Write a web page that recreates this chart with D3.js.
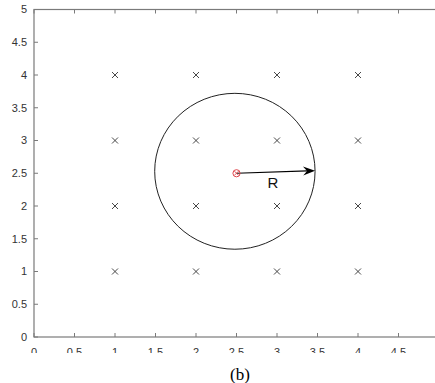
<!DOCTYPE html>
<html>
<head>
<meta charset="utf-8">
<script src="https://cdn.jsdelivr.net/npm/d3@7"></script>
<style>
  body { margin: 0; background: #fff; }
  svg { display: block; }
</style>
</head>
<body>
<svg id="chart" width="435" height="383"></svg>
<script>
// data
const xTicks = [0, 0.5, 1, 1.5, 2, 2.5, 3, 3.5, 4, 4.5, 5];
const xTickLabels = [0, 0.5, 1, 1.5, 2, 2.5, 3, 3.5, 4, 4.5]; // 5 is off the picture
const yTicks = [0, 0.5, 1, 1.5, 2, 2.5, 3, 3.5, 4, 4.5, 5];
const gridX = [1, 2, 3, 4];
const gridY = [1, 2, 3, 4];
const centerPt = [2.5, 2.5];
const circleCenter = [2.48, 2.53];
const circleRadius = [0.99, 1.19]; // x, y in data units
const arrowTip = [3.47, 2.54];
const rLabel = [2.95, 2.35];

const svg = d3.select('#chart');
const x = d3.scaleLinear().domain([0, 5]).range([34, 439]);
const y = d3.scaleLinear().domain([0, 5]).range([337, 9.5]);
const axisColor = '#7a7a7a';
const tickLen = 4;

// clip for x tick labels (cut off in the original)
svg.append('defs').append('clipPath').attr('id', 'lblclip')
  .append('rect').attr('x', 0).attr('y', 0).attr('width', 435).attr('height', 353);

const g = svg.append('g');

// box
g.append('rect')
  .attr('x', x(0)).attr('y', y(5))
  .attr('width', x(5) - x(0)).attr('height', y(0) - y(5))
  .attr('fill', 'none').attr('stroke', axisColor).attr('stroke-width', 1.2);

// ticks (inward on all sides)
xTicks.forEach(function(t) {
  g.append('line').attr('x1', x(t)).attr('x2', x(t)).attr('y1', y(0)).attr('y2', y(0) - tickLen)
    .attr('stroke', axisColor);
  g.append('line').attr('x1', x(t)).attr('x2', x(t)).attr('y1', y(5)).attr('y2', y(5) + tickLen)
    .attr('stroke', axisColor);
});
yTicks.forEach(function(t) {
  g.append('line').attr('x1', x(0)).attr('x2', x(0) + tickLen).attr('y1', y(t)).attr('y2', y(t))
    .attr('stroke', axisColor);
  g.append('line').attr('x1', x(5)).attr('x2', x(5) - tickLen).attr('y1', y(t)).attr('y2', y(t))
    .attr('stroke', axisColor);
});

// tick labels
g.append('g').attr('clip-path', 'url(#lblclip)')
  .selectAll('text').data(xTickLabels).enter().append('text')
  .attr('x', d => x(d)).attr('y', y(0) + 19)
  .attr('text-anchor', 'middle')
  .style('font-family', 'Liberation Sans, Arial, sans-serif')
  .style('font-size', '11px').style('fill', '#333')
  .text(d => d);

g.append('g').selectAll('text').data(yTicks).enter().append('text')
  .attr('x', x(0) - 7).attr('y', d => y(d)).attr('dy', '0.35em')
  .attr('text-anchor', 'end')
  .style('font-family', 'Liberation Sans, Arial, sans-serif')
  .style('font-size', '11px').style('fill', '#333')
  .text(d => d);

// grid of x markers
const pts = [];
gridX.forEach(function(a) { gridY.forEach(function(b) { pts.push([a, b]); }); });
const m = 3;
const marks = g.append('g').selectAll('g').data(pts).enter().append('g')
  .attr('transform', d => 'translate(' + x(d[0]) + ',' + y(d[1]) + ')');
marks.append('path')
  .attr('d', 'M' + (-m) + ',' + (-m) + 'L' + m + ',' + m + 'M' + (-m) + ',' + m + 'L' + m + ',' + (-m))
  .attr('stroke', '#333').attr('stroke-width', 0.9);

// big circle
g.append('ellipse')
  .attr('cx', x(circleCenter[0])).attr('cy', y(circleCenter[1]))
  .attr('rx', x(circleCenter[0] + circleRadius[0]) - x(circleCenter[0]))
  .attr('ry', y(circleCenter[1]) - y(circleCenter[1] + circleRadius[1]))
  .attr('fill', 'none').attr('stroke', '#222').attr('stroke-width', 1);

// arrow
const x0 = x(centerPt[0]), y0 = y(centerPt[1]);
const x1 = x(arrowTip[0]), y1 = y(arrowTip[1]);
const ang = Math.atan2(y1 - y0, x1 - x0);
const hl = 12, hw = 4.5, notch = 8;
g.append('line')
  .attr('x1', x0).attr('y1', y0)
  .attr('x2', x1 - notch * Math.cos(ang)).attr('y2', y1 - notch * Math.sin(ang))
  .attr('stroke', '#000').attr('stroke-width', 1.2);
g.append('path')
  .attr('transform', 'translate(' + x1 + ',' + y1 + ') rotate(' + (ang * 180 / Math.PI) + ')')
  .attr('d', 'M0,0L' + (-hl) + ',' + (-hw) + 'L' + (-notch) + ',0L' + (-hl) + ',' + hw + 'Z')
  .attr('fill', '#000');

// red centre marker
const c = g.append('g').attr('transform', 'translate(' + x0 + ',' + y0 + ')');
c.append('circle').attr('r', 3.6).attr('fill', 'none').attr('stroke', '#e0484f').attr('stroke-width', 1);
c.append('path').attr('d', 'M-2.2,-2.2L2.2,2.2M-2.2,2.2L2.2,-2.2')
  .attr('stroke', '#e0484f').attr('stroke-width', 0.9);

// R label
g.append('text')
  .attr('x', x(rLabel[0])).attr('y', y(rLabel[1])).attr('dy', '0.35em')
  .attr('text-anchor', 'middle')
  .style('font-family', 'Liberation Sans, Arial, sans-serif')
  .style('font-size', '15px').style('fill', '#111')
  .text('R');

// caption
svg.append('text')
  .attr('x', 240).attr('y', 380)
  .attr('text-anchor', 'middle')
  .style('font-family', 'Liberation Serif, Times New Roman, serif')
  .style('font-size', '17px').style('fill', '#000')
  .text('(b)');
</script>
</body>
</html>
